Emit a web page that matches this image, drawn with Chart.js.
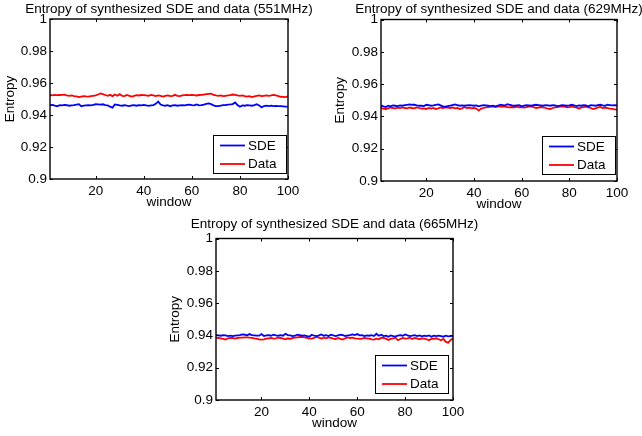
<!DOCTYPE html>
<html>
<head>
<meta charset="utf-8">
<script src="https://cdn.jsdelivr.net/npm/chart.js@4.4.1/dist/chart.umd.min.js"></script>
<style>
  html, body { margin: 0; padding: 0; background: #fff; }
  body { width: 642px; height: 436px; position: relative; overflow: hidden; }
  canvas { position: absolute; }
</style>
</head>
<body>
<canvas id="c1" width="320" height="212" style="left:0px;top:0px;"></canvas>
<canvas id="c2" width="311" height="214" style="left:331px;top:0px;"></canvas>
<canvas id="c3" width="330" height="223" style="left:166px;top:210px;"></canvas>
<script>
// ---------- data ----------
const windows = Array.from({length: 100}, (_, i) => i + 1);
const xTicks = [20, 40, 60, 80, 100];
const yTicks = [0.9, 0.92, 0.94, 0.96, 0.98, 1];
const seriesLabels = ['SDE', 'Data'];
const titles = [
  'Entropy of synthesized SDE and data (551MHz)',
  'Entropy of synthesized SDE and data (629MHz)',
  'Entropy of synthesized SDE and data (665MHz)'
];
const xTitle = 'window';
const yTitle = 'Entropy';

const sde551 = [
0.9462,0.9463,0.9458,0.9455,0.9462,0.9460,0.9463,0.9461,0.9458,0.9460,
0.9462,0.9465,0.9468,0.9455,0.9458,0.9460,0.9462,0.9460,0.9463,0.9467,
0.9466,0.9465,0.9467,0.9462,0.9460,0.9452,0.9446,0.9466,0.9464,0.9460,
0.9458,0.9462,0.9458,0.9456,0.9460,0.9462,0.9458,0.9462,0.9460,0.9463,
0.9460,0.9457,0.9460,0.9462,0.9470,0.9484,0.9465,0.9460,0.9458,0.9462,
0.9455,0.9460,0.9462,0.9458,0.9460,0.9462,0.9460,0.9463,0.9465,0.9462,
0.9460,0.9466,0.9460,0.9462,0.9465,0.9470,0.9472,0.9468,0.9460,0.9455,
0.9455,0.9458,0.9462,0.9462,0.9465,0.9466,0.9468,0.9478,0.9462,0.9452,
0.9460,0.9458,0.9462,0.9460,0.9458,0.9462,0.9468,0.9460,0.9448,0.9456,
0.9458,0.9456,0.9458,0.9455,0.9457,0.9455,0.9456,0.9454,0.9452,0.9452];
const data551 = [
0.9525,0.9523,0.9526,0.9524,0.9525,0.9526,0.9527,0.9522,0.9520,0.9523,
0.9518,0.9516,0.9512,0.9515,0.9518,0.9516,0.9515,0.9518,0.9520,0.9522,
0.9528,0.9535,0.9530,0.9525,0.9520,0.9526,0.9518,0.9528,0.9520,0.9530,
0.9520,0.9518,0.9525,0.9520,0.9515,0.9520,0.9524,0.9522,0.9525,0.9524,
0.9522,0.9520,0.9526,0.9522,0.9518,0.9522,0.9520,0.9515,0.9520,0.9522,
0.9518,0.9520,0.9526,0.9520,0.9518,0.9522,0.9524,0.9525,0.9524,0.9525,
0.9524,0.9522,0.9525,0.9526,0.9528,0.9530,0.9532,0.9534,0.9525,0.9522,
0.9520,0.9522,0.9518,0.9520,0.9522,0.9524,0.9528,0.9526,0.9522,0.9520,
0.9522,0.9518,0.9515,0.9518,0.9512,0.9516,0.9520,0.9522,0.9518,0.9520,
0.9522,0.9520,0.9522,0.9526,0.9522,0.9518,0.9514,0.9513,0.9512,0.9516];

const sde629 = [
0.9468,0.9462,0.9458,0.9466,0.9462,0.9468,0.9466,0.9464,0.9468,0.9466,
0.9470,0.9472,0.9474,0.9472,0.9472,0.9468,0.9466,0.9466,0.9464,0.9472,
0.9470,0.9466,0.9468,0.9472,0.9474,0.9468,0.9462,0.9460,0.9464,0.9466,
0.9470,0.9474,0.9470,0.9466,0.9468,0.9466,0.9468,0.9470,0.9468,0.9466,
0.9468,0.9462,0.9466,0.9470,0.9468,0.9466,0.9464,0.9466,0.9462,0.9466,
0.9472,0.9470,0.9468,0.9476,0.9472,0.9468,0.9466,0.9468,0.9470,0.9462,
0.9466,0.9470,0.9468,0.9466,0.9470,0.9472,0.9470,0.9468,0.9466,0.9470,
0.9468,0.9466,0.9470,0.9468,0.9464,0.9466,0.9470,0.9468,0.9466,0.9468,
0.9472,0.9468,0.9464,0.9468,0.9466,0.9470,0.9468,0.9462,0.9470,0.9468,
0.9466,0.9470,0.9472,0.9468,0.9466,0.9472,0.9470,0.9468,0.9470,0.9468];
const data629 = [
0.9452,0.9448,0.9446,0.9450,0.9455,0.9452,0.9450,0.9454,0.9452,0.9456,
0.9452,0.9450,0.9455,0.9452,0.9450,0.9456,0.9452,0.9448,0.9450,0.9446,
0.9452,0.9448,0.9452,0.9446,0.9450,0.9455,0.9452,0.9456,0.9454,0.9452,
0.9455,0.9450,0.9452,0.9446,0.9450,0.9458,0.9452,0.9454,0.9450,0.9452,
0.9448,0.9436,0.9448,0.9452,0.9456,0.9458,0.9460,0.9462,0.9458,0.9462,
0.9460,0.9462,0.9460,0.9458,0.9456,0.9458,0.9456,0.9460,0.9456,0.9458,
0.9455,0.9458,0.9460,0.9462,0.9458,0.9452,0.9455,0.9458,0.9456,0.9452,
0.9448,0.9446,0.9452,0.9456,0.9458,0.9460,0.9462,0.9460,0.9456,0.9458,
0.9462,0.9458,0.9456,0.9448,0.9456,0.9458,0.9460,0.9456,0.9452,0.9446,
0.9450,0.9456,0.9458,0.9452,0.9455,0.9452,0.9448,0.9446,0.9444,0.9442];

const sde665 = [
0.9402,0.9400,0.9398,0.9402,0.9400,0.9396,0.9398,0.9396,0.9398,0.9400,
0.9402,0.9406,0.9404,0.9400,0.9408,0.9402,0.9400,0.9398,0.9398,0.9408,
0.9396,0.9400,0.9402,0.9398,0.9404,0.9400,0.9398,0.9402,0.9398,0.9410,
0.9402,0.9400,0.9396,0.9398,0.9404,0.9402,0.9398,0.9400,0.9396,0.9392,
0.9404,0.9398,0.9396,0.9400,0.9406,0.9398,0.9402,0.9396,0.9404,0.9400,
0.9396,0.9400,0.9404,0.9402,0.9396,0.9400,0.9402,0.9406,0.9402,0.9408,
0.9400,0.9402,0.9396,0.9400,0.9398,0.9402,0.9396,0.9410,0.9398,0.9404,
0.9396,0.9398,0.9392,0.9400,0.9396,0.9394,0.9398,0.9402,0.9398,0.9406,
0.9400,0.9396,0.9398,0.9402,0.9396,0.9400,0.9394,0.9398,0.9396,0.9400,
0.9392,0.9398,0.9396,0.9398,0.9396,0.9392,0.9398,0.9394,0.9396,0.9398];
const data665 = [
0.9386,0.9384,0.9382,0.9378,0.9374,0.9382,0.9385,0.9384,0.9380,0.9384,
0.9386,0.9386,0.9388,0.9388,0.9386,0.9385,0.9382,0.9380,0.9376,0.9374,
0.9376,0.9380,0.9382,0.9384,0.9380,0.9382,0.9386,0.9384,0.9380,0.9376,
0.9382,0.9378,0.9384,0.9386,0.9388,0.9390,0.9390,0.9388,0.9384,0.9380,
0.9380,0.9384,0.9390,0.9386,0.9380,0.9386,0.9382,0.9388,0.9384,0.9380,
0.9378,0.9384,0.9378,0.9374,0.9382,0.9388,0.9384,0.9386,0.9382,0.9380,
0.9378,0.9380,0.9384,0.9382,0.9380,0.9376,0.9374,0.9380,0.9376,0.9386,
0.9384,0.9380,0.9372,0.9378,0.9382,0.9386,0.9370,0.9378,0.9384,0.9380,
0.9382,0.9386,0.9378,0.9384,0.9382,0.9376,0.9382,0.9380,0.9376,0.9370,
0.9380,0.9378,0.9382,0.9376,0.9370,0.9378,0.9360,0.9355,0.9372,0.9380];

// ---------- styling ----------
const FONT_FAMILY = '"Liberation Sans", Arial, Helvetica, sans-serif';
const FONT_SIZE = 13.5;
const COLORS = ['#0000ff', '#ff0000'];

// custom decoration: title, box with inward ticks, legend inside box
const decorPlugin = {
  id: 'decor',
  afterDraw(chart, args, opts) {
    const ctx = chart.ctx;
    const ca = chart.chartArea;
    const xs = chart.scales.x, ys = chart.scales.y;
    ctx.save();
    // box
    ctx.strokeStyle = '#000';
    ctx.lineWidth = 1.4;
    ctx.strokeRect(ca.left, ca.top, ca.right - ca.left, ca.bottom - ca.top);
    // inward ticks
    ctx.lineWidth = 1;
    const tl = 3;
    ctx.beginPath();
    xs.ticks.forEach(t => {
      const px = Math.round(xs.getPixelForValue(t.value)) + 0.5;
      ctx.moveTo(px, ca.bottom); ctx.lineTo(px, ca.bottom - tl);
      ctx.moveTo(px, ca.top); ctx.lineTo(px, ca.top + tl);
    });
    ys.ticks.forEach(t => {
      const py = Math.round(ys.getPixelForValue(t.value)) + 0.5;
      ctx.moveTo(ca.left, py); ctx.lineTo(ca.left + tl, py);
      ctx.moveTo(ca.right, py); ctx.lineTo(ca.right - tl, py);
    });
    ctx.stroke();
    // title
    ctx.fillStyle = '#000';
    ctx.font = FONT_SIZE + 'px ' + FONT_FAMILY;
    ctx.textAlign = 'center';
    ctx.textBaseline = 'middle';
    ctx.fillText(opts.title, (ca.left + ca.right) / 2, ca.top - opts.titleGap);
    // legend
    const w = 73, h = 38;
    const x0 = ca.right - opts.legendRight - w;
    const y0 = ca.bottom - opts.legendBottom - h;
    ctx.fillStyle = '#fff';
    ctx.fillRect(x0, y0, w, h);
    ctx.strokeStyle = '#000';
    ctx.lineWidth = 1;
    ctx.strokeRect(Math.round(x0) + 0.5, Math.round(y0) + 0.5, w, h);
    chart.data.datasets.forEach((ds, i) => {
      const y = y0 + 10.5 + i * 18.5;
      ctx.strokeStyle = ds.borderColor;
      ctx.lineWidth = 1.8;
      ctx.beginPath();
      ctx.moveTo(x0 + 7, y); ctx.lineTo(x0 + 32, y);
      ctx.stroke();
      ctx.fillStyle = '#000';
      ctx.textAlign = 'left';
      ctx.textBaseline = 'middle';
      ctx.fillText(ds.label, x0 + 35, y + 0.5);
    });
    ctx.restore();
  }
};

function makePanel(id, sde, dat, title, o) {
  const font = { family: FONT_FAMILY, size: FONT_SIZE };
  return new Chart(document.getElementById(id), {
    type: 'line',
    data: {
      datasets: [
        { label: seriesLabels[0], data: windows.map((w, i) => ({ x: w, y: sde[i] })),
          borderColor: COLORS[0], borderWidth: 1.8, pointRadius: 0, tension: 0, fill: false },
        { label: seriesLabels[1], data: windows.map((w, i) => ({ x: w, y: dat[i] })),
          borderColor: COLORS[1], borderWidth: 1.8, pointRadius: 0, tension: 0, fill: false }
      ]
    },
    options: {
      responsive: false,
      animation: false,
      devicePixelRatio: 1,
      layout: { padding: { left: 0, right: o.padRight, top: o.padTop, bottom: 0 } },
      plugins: {
        legend: { display: false },
        tooltip: { enabled: false },
        title: { display: false },
        decor: { title: title, titleGap: o.titleGap, legendRight: o.legendRight, legendBottom: o.legendBottom }
      },
      scales: {
        x: {
          type: 'linear', min: 1, max: 100,
          afterBuildTicks: s => { s.ticks = xTicks.map(v => ({ value: v })); },
          afterFit: s => { s.height = 33; },
          grid: { display: false, drawTicks: false },
          border: { display: false },
          ticks: { font: font, color: '#000', padding: 4, maxRotation: 0, autoSkip: false,
                   callback: v => String(v) },
          title: { display: true, text: xTitle, font: font, color: '#000', padding: { top: 0, bottom: 1.5 } }
        },
        y: {
          type: 'linear', min: 0.9, max: 1,
          afterBuildTicks: s => { s.ticks = yTicks.map(v => ({ value: v })); },
          afterFit: s => { s.width = 50; },
          grid: { display: false, drawTicks: false },
          border: { display: false },
          ticks: { font: font, color: '#000', padding: 3, autoSkip: false,
                   callback: v => String(Math.round(v * 100) / 100) },
          title: { display: true, text: yTitle, font: font, color: '#000', padding: { top: o.yTitlePad, bottom: 0 } }
        }
      }
    },
    plugins: [decorPlugin]
  });
}

makePanel('c1', sde551, data551, titles[0], { padRight: 32, padTop: 19, titleGap: 10, legendRight: 2, legendBottom: 6, yTitlePad: 2 });
makePanel('c2', sde629, data629, titles[1], { padRight: 25, padTop: 19.5, titleGap: 10.5, legendRight: 2, legendBottom: 7, yTitlePad: 1 });
makePanel('c3', sde665, data665, titles[2], { padRight: 43, padTop: 28.5, titleGap: 14, legendRight: 5, legendBottom: 7, yTitlePad: 1 });
</script>
</body>
</html>
